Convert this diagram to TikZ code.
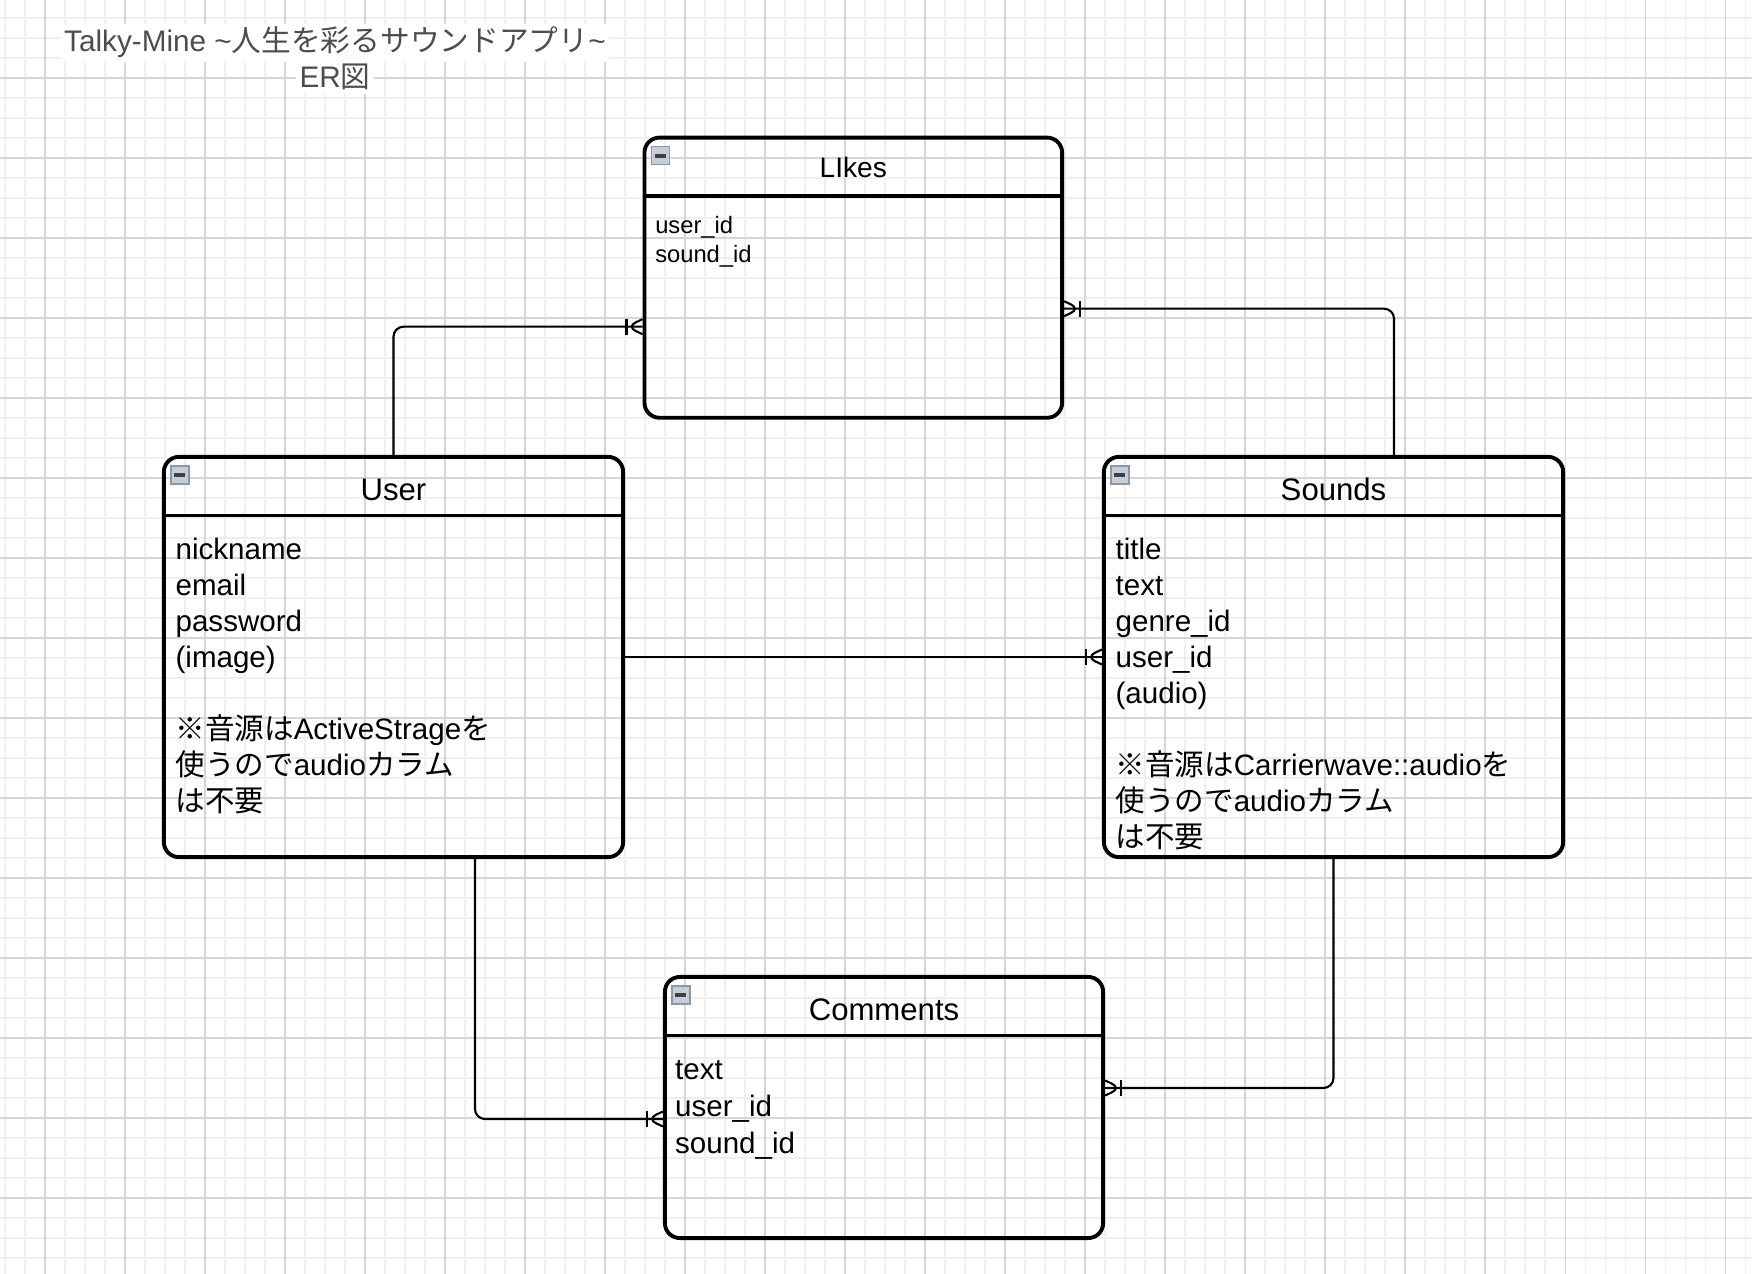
\documentclass[tikz,border=0pt]{standalone}
\usepackage{fontspec}
\setmainfont{Liberation Sans}
\newfontfamily\jp{Noto Sans CJK JP}
\usetikzlibrary{calc,decorations.markings}

\definecolor{titlegray}{HTML}{4D4D4D}
\definecolor{majorgrid}{HTML}{D6D6D6}
\definecolor{minorgrid}{HTML}{EFEFEF}
\definecolor{iconfill}{HTML}{C5CED8}
\definecolor{iconline}{HTML}{8C98A6}

\tikzset{
  entity/.style={draw, line width=1.1pt, rounded corners=0.15cm, inner sep=0pt},
  divider/.style={line width=1.1pt},
  heading/.style={anchor=base, inner sep=0pt, font=\fontsize{8.85}{10.6}\selectfont},
  fields/.style={anchor=north west, align=left, inner sep=0pt, font=\fontsize{8.4}{10.24}\selectfont},
  iconbox/.style={fill=iconfill, draw=iconline, line width=0.4pt},
  iconbar/.style={line width=1.1pt, draw=black!75},
  rel/.style={line width=0.6pt, rounded corners=0.1cm, postaction={decorate},
    decoration={markings, mark=at position 1 with {
      \draw[line width=0.6pt] (-0.16cm,0.08cm) -- (-0.16cm,-0.08cm);
      \draw[line width=0.6pt] (0,0.075cm) -- (-0.16cm,0) -- (0,-0.075cm);}}},
}

\begin{document}
\begin{tikzpicture}[x=0.01cm,y=-0.01cm]
\useasboundingbox (0,0) rectangle (1752,1274);
\fill[white] (0,0) rectangle (1752,1274);

% grid
\foreach \x in {5,25,...,1745} \draw[minorgrid, line width=0.3pt] (\x,0) -- (\x,1274);
\foreach \y in {18,38,...,1258} \draw[minorgrid, line width=0.3pt] (0,\y) -- (1752,\y);
\foreach \x in {45,125,...,1725} \draw[majorgrid, line width=0.3pt] (\x,0) -- (\x,1274);
\foreach \y in {78,158,...,1238} \draw[majorgrid, line width=0.3pt] (0,\y) -- (1752,\y);

\node[anchor=base, fill=white, inner sep=1pt, text=titlegray, font=\fontsize{8.45}{10.24}\selectfont] (title) at (335,52)
  {Talky-Mine \textasciitilde{\jp 人生を彩るサウンドアプリ}\textasciitilde};
\node[anchor=base, fill=white, inner sep=1pt, text=titlegray, font=\fontsize{8.45}{10.24}\selectfont] (titlesub) at (335,88)
  {ER{\jp 図}};

% tables
\node[entity, minimum width=4.174cm, minimum height=2.80cm] (likes) at (853.3,277.7) {};
\node[entity, minimum width=4.59cm, minimum height=4.00cm] (user) at (393.5,657) {};
\node[entity, minimum width=4.59cm, minimum height=4.00cm] (sounds) at (1333.5,657) {};
\node[entity, minimum width=4.38cm, minimum height=2.61cm] (comments) at (884,1107.5) {};

\foreach \t in {likes,user,sounds,comments} {
  \draw[divider] ($(\t.north west)+(0,60.5)$) -- ($(\t.north east)+(0,60.5)$);
  \draw[iconbox] ($(\t.north west)+(9,11)$) rectangle +(18,18);
  \draw[iconbar] ($(\t.north west)+(12.5,20)$) -- +(11,0);
}

\node[heading, font=\fontsize{8}{9.6}\selectfont] (likeshead) at ($(likes.north)+(0,42)$) {LIkes};
\node[heading] (userhead) at ($(user.north)+(0,46)$) {User};
\node[heading] (soundshead) at ($(sounds.north)+(0,46)$) {Sounds};
\node[heading] (commentshead) at ($(comments.north)+(0,46)$) {Comments};

\node[fields, font=\fontsize{6.75}{8.25}\selectfont] (likesfields) at ($(likes.north west)+(12,77)$)
  {\strut user\_id\\sound\_id};
\node[fields] (userfields) at ($(user.north west)+(13,79)$)
  {\strut nickname\\email\\password\\(image)\\~\\{\jp ※音源は}ActiveStrage{\jp を}\\{\jp 使うので}audio{\jp カラム}\\{\jp は不要}};
\node[fields] (soundsfields) at ($(sounds.north west)+(13,79)$)
  {\strut title\\text\\genre\_id\\user\_id\\(audio)\\~\\{\jp ※音源は}Carrierwave::audio{\jp を}\\{\jp 使うので}audio{\jp カラム}\\{\jp は不要}};
\node[fields, font=\fontsize{8.4}{10.5}\selectfont] (commentsfields) at ($(comments.north west)+(11.5,78)$)
  {\strut text\\user\_id\\sound\_id};

% relations
\draw[rel] (user.north) |- ($(likes.west)+(0,49)$);
\draw[rel] ($(sounds.north)+(60.5,0)$) |- ($(likes.east)+(0,31)$);
\draw[rel] (user.east) -- (sounds.west);
\draw[rel] ($(user.south)+(81.5,0)$) |- ($(comments.west)+(0,11.5)$);
\draw[rel] (sounds.south) |- ($(comments.east)+(0,-19.5)$);

\end{tikzpicture}
\end{document}
